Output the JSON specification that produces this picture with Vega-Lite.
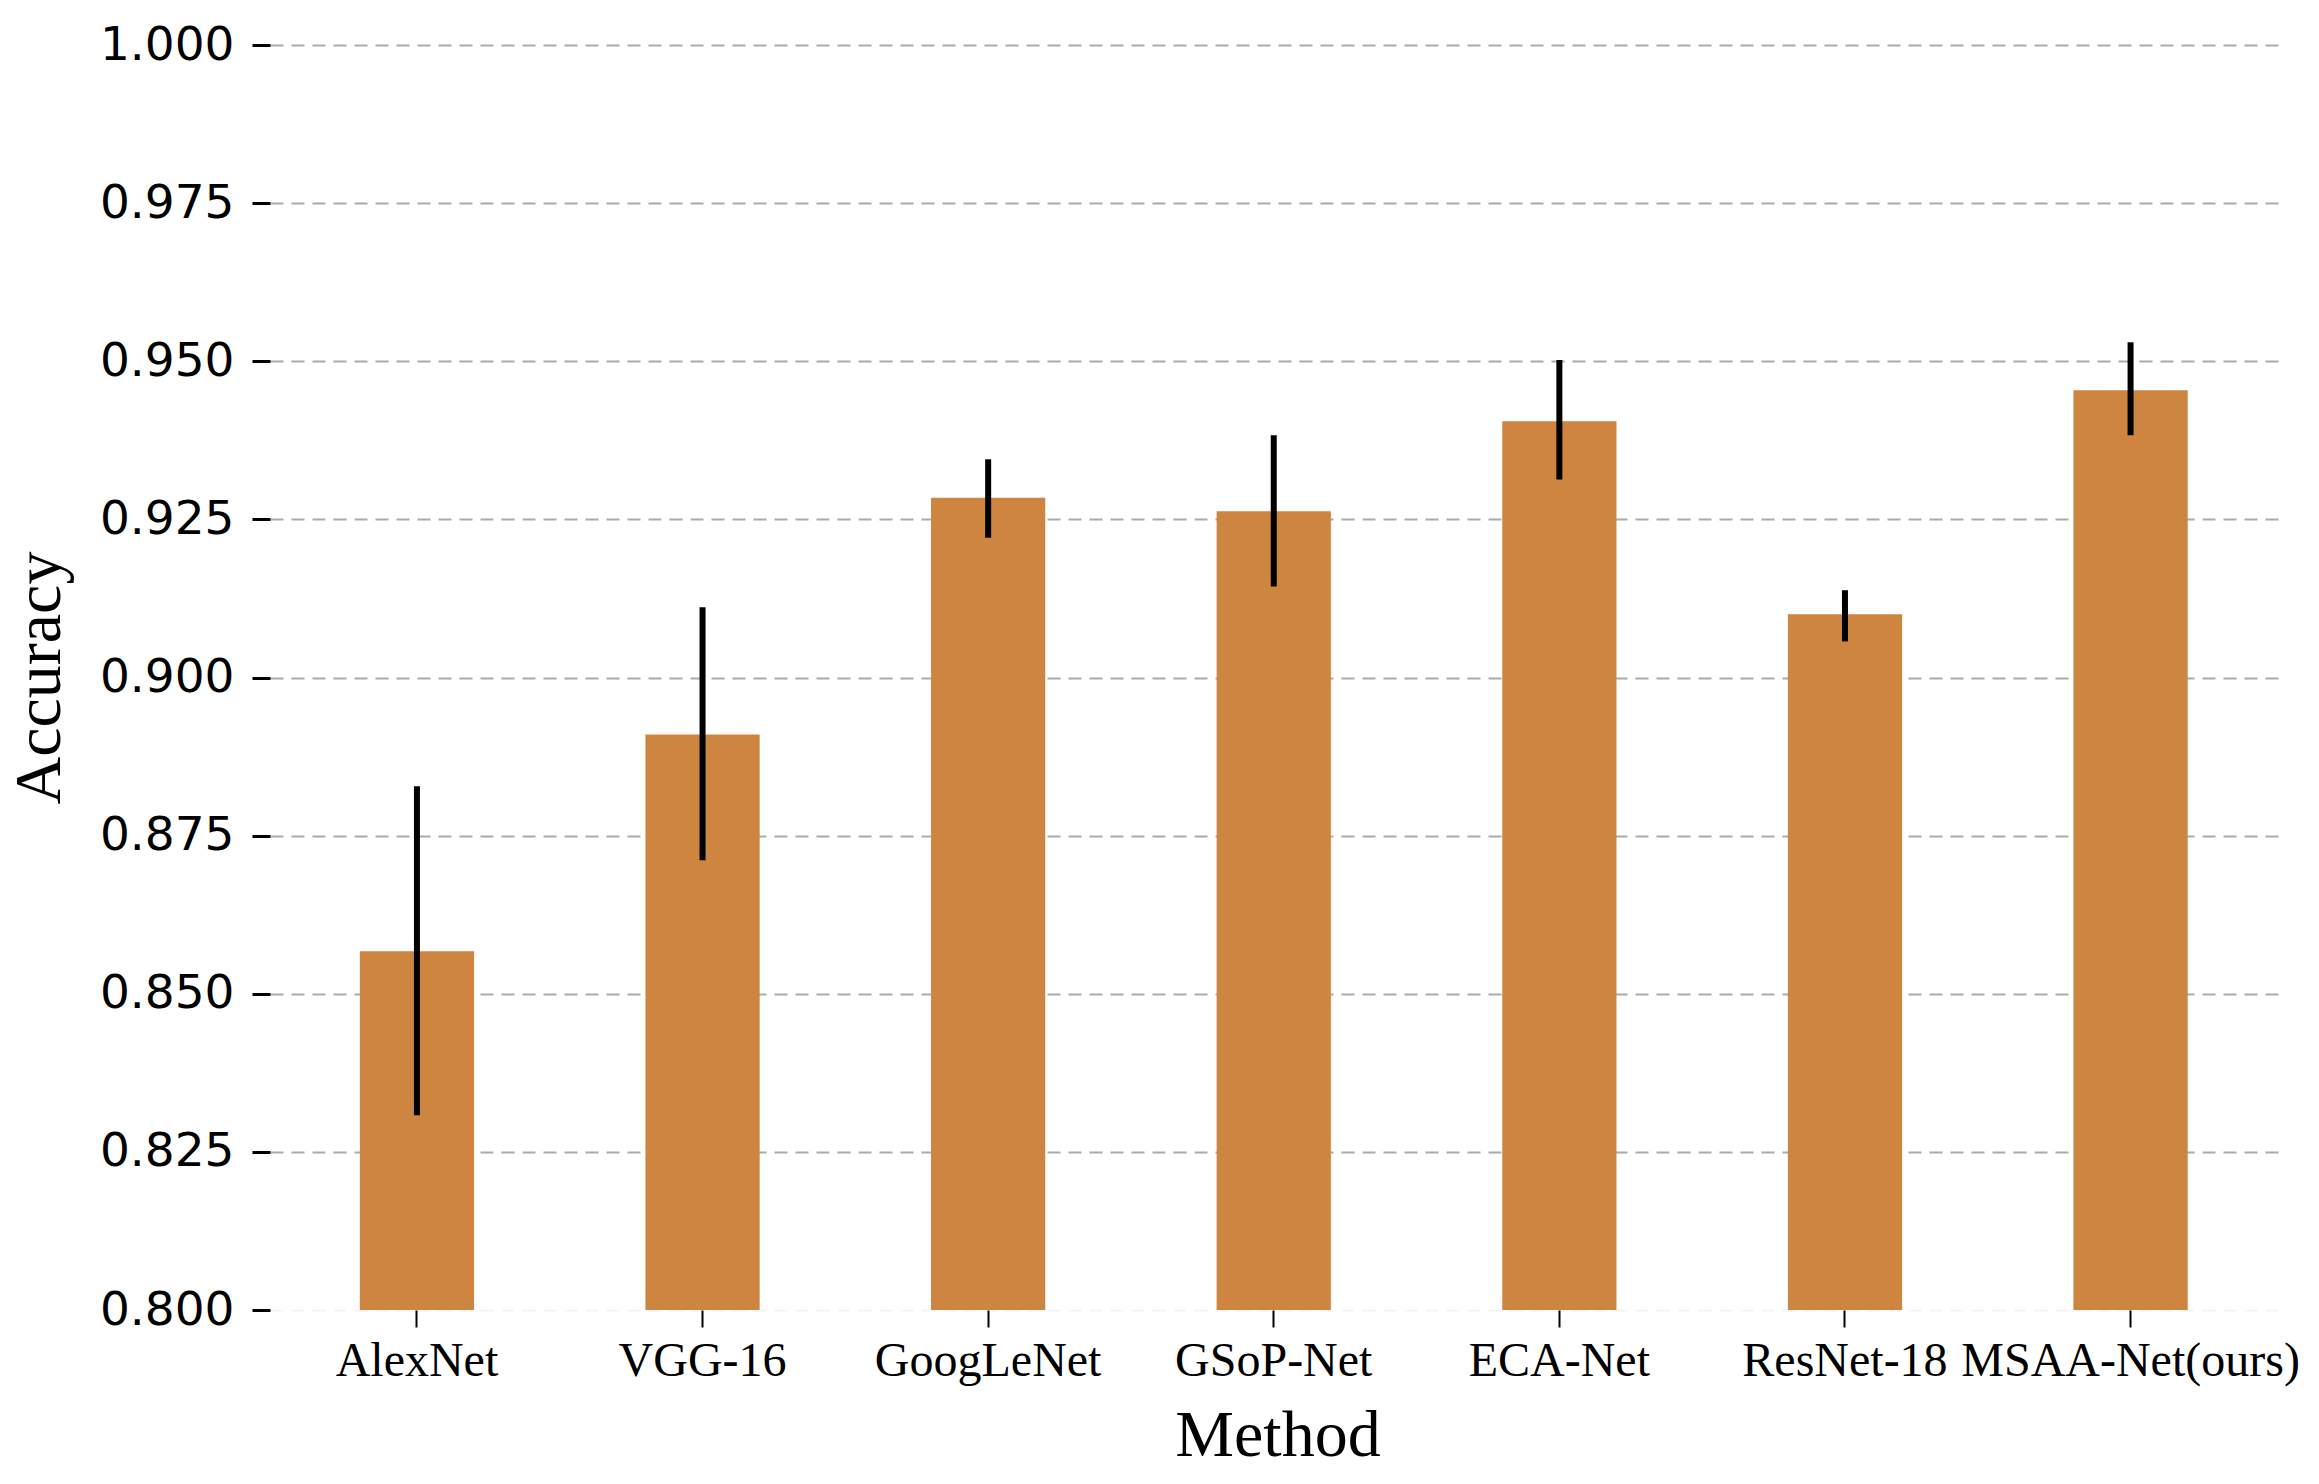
{
  "$schema": "https://vega.github.io/schema/vega-lite/v6.json",
  "autosize": {"type": "none"},
  "width": 2015,
  "height": 1265,
  "padding": {"left": 270, "top": 45, "right": 34, "bottom": 174},
  "background": "white",
  "config": {"view": {"stroke": null}},
  "data": {
    "values": [
      {"method": "AlexNet", "acc": 0.8567, "lo": 0.8308, "hi": 0.8828},
      {"method": "VGG-16", "acc": 0.8910, "lo": 0.8711, "hi": 0.9111},
      {"method": "GoogLeNet", "acc": 0.9284, "lo": 0.9221, "hi": 0.9345},
      {"method": "GSoP-Net", "acc": 0.9263, "lo": 0.9144, "hi": 0.9383},
      {"method": "ECA-Net", "acc": 0.9405, "lo": 0.9313, "hi": 0.9502},
      {"method": "ResNet-18", "acc": 0.9100, "lo": 0.9057, "hi": 0.9138},
      {"method": "MSAA-Net(ours)", "acc": 0.9454, "lo": 0.9383, "hi": 0.9530}
    ]
  },
  "encoding": {
    "x": {
      "field": "method",
      "type": "nominal",
      "sort": null,
      "scale": {"paddingInner": 0.6, "paddingOuter": 0.3276, "align": 0.48},
      "axis": {
        "title": "Method",
        "titleFont": "Liberation Serif",
        "titleFontSize": 66,
        "titleFontWeight": "normal",
        "titleColor": "black",
        "titlePadding": 18,
        "labelFont": "Liberation Serif",
        "labelFontSize": 48,
        "labelColor": "black",
        "labelAngle": 0,
        "labelLimit": 0,
        "labelPadding": 10,
        "tickSize": 17,
        "tickWidth": 2,
        "tickColor": "black",
        "domain": false,
        "grid": false
      }
    }
  },
  "layer": [
    {
      "mark": {"type": "bar", "color": "#CD853F", "clip": true},
      "encoding": {
        "y": {
          "field": "acc",
          "type": "quantitative",
          "scale": {"domain": [0.8, 1.0], "nice": false, "zero": false},
          "axis": {
            "title": "Accuracy",
            "titleFont": "Liberation Serif",
            "titleFontSize": 66,
            "titleFontWeight": "normal",
            "titleColor": "black",
            "titlePadding": 26,
            "values": [0.8, 0.825, 0.85, 0.875, 0.9, 0.925, 0.95, 0.975, 1.0],
            "format": ".3f",
            "labelFont": "DejaVu Sans",
            "labelFontSize": 47,
            "labelColor": "black",
            "labelPadding": 18,
            "tickSize": 18,
            "tickWidth": 3,
            "tickColor": "black",
            "domain": false,
            "grid": true,
            "gridColor": {"condition": {"test": "datum.value <= 0.8001", "value": "#f4f4f4"}, "value": "#aaaaaa"},
            "gridDash": [13, 8],
            "gridWidth": 2
          }
        }
      }
    },
    {
      "mark": {"type": "rule", "color": "black", "strokeWidth": 6},
      "encoding": {
        "y": {"field": "lo", "type": "quantitative"},
        "y2": {"field": "hi"}
      }
    }
  ]
}
